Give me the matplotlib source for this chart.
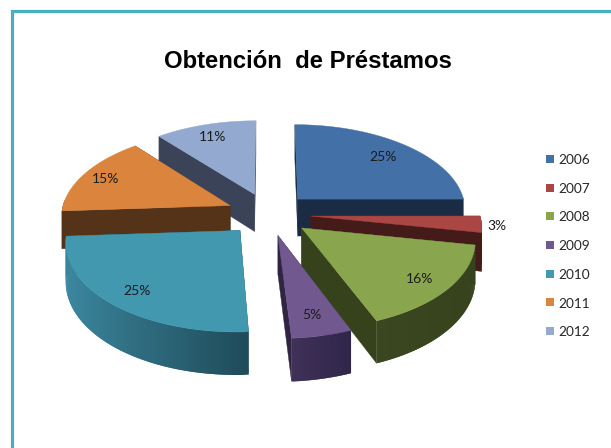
import numpy as np
import matplotlib
matplotlib.use("Agg")
import matplotlib.pyplot as plt
from matplotlib.colors import to_rgb
from matplotlib.patches import Polygon, Rectangle

TITLE = "Obtención  de Préstamos"
YEARS = ["2006", "2007", "2008", "2009", "2010", "2011", "2012"]
PERCENT = [25, 3, 16, 5, 25, 15, 11]

TOP_COLORS = ["#4470A8", "#AA4643", "#89A54E", "#71588F", "#4198AF", "#DB843D", "#93A9CF"]
CUT_COLORS = ["#1A2C44", "#451B19", "#36421C", "#2F2543", "#1F4C5A", "#553318", "#3A4357"]
RIM_LEFT = ["#1A2C44", "#451B19", "#3A4720", "#3F3158", "#3D8AA2", "#553318", "#3A4357"]
RIM_RIGHT = ["#1A2C44", "#451B19", "#36421C", "#30264A", "#1F4C5A", "#553318", "#3A4357"]
LABEL_R = [0.79, 1.09, 0.82, 0.80, 0.82, 0.85, 0.83]

# pie geometry, in pixels of the 611x448 picture
CX, CY = 268.5, 214
RX, RY = 169, 86
PERSP = 0.113
HEIGHT = 38
EXPLODE = 0.25
BORDER = "#4BACC6"


def project(x, y, drop=0.0):
    s = 1 / (1 - PERSP * y)
    return CX + RX * x * s, CY + RY * y * s + HEIGHT * s ** 0.85 * drop


def mix(a, b, t):
    a, b = np.array(to_rgb(a)), np.array(to_rgb(b))
    return tuple(a + (b - a) * t)


def draw_slice(ax, i, start, end):
    mid = (start + end) / 2
    ox, oy = EXPLODE * np.sin(mid), -EXPLODE * np.cos(mid)
    th = np.linspace(start, end, 80)
    x = ox + np.sin(th)
    y = oy - np.cos(th)

    # the two cut faces first, the rim and the top cover what is hidden
    for ex, ey in [(x[0], y[0]), (x[-1], y[-1])]:
        quad = [project(ox, oy), project(ex, ey), project(ex, ey, 1), project(ox, oy, 1)]
        ax.add_patch(Polygon(quad, fc=CUT_COLORS[i], ec=CUT_COLORS[i], lw=0.3))

    # rim strips overlap by one step so no seams show
    for k in range(len(th) - 2):
        if np.cos(th[k]) > 0.05:
            continue
        t = (x[k] - x.min()) / (x.max() - x.min())
        col = mix(RIM_LEFT[i], RIM_RIGHT[i], t)
        quad = [project(x[k], y[k]), project(x[k + 1], y[k + 1]), project(x[k + 2], y[k + 2]),
                project(x[k + 2], y[k + 2], 1), project(x[k + 1], y[k + 1], 1), project(x[k], y[k], 1)]
        ax.add_patch(Polygon(quad, fc=col, ec="none", lw=0))

    top = [project(ox, oy)] + [project(a, b) for a, b in zip(x, y)]
    ax.add_patch(Polygon(top, fc=TOP_COLORS[i], ec=TOP_COLORS[i], lw=0.3))


def main():
    plt.rcParams["font.family"] = ["Lato", "DejaVu Sans"]

    fig = plt.figure(figsize=(6.11, 4.48), dpi=100)
    ax = fig.add_axes([0, 0, 1, 1])
    ax.set_xlim(0, 611)
    ax.set_ylim(448, 0)
    ax.axis("off")

    ax.plot([11.5, 11.5, 611], [448, 11, 11], color=BORDER, lw=2.3,
            solid_joinstyle="miter")

    edges = np.cumsum([0] + PERCENT) / sum(PERCENT) * 2 * np.pi
    mids = (edges[:-1] + edges[1:]) / 2

    # back to front
    for i in np.argsort(-np.cos(mids)):
        draw_slice(ax, i, edges[i], edges[i + 1])

    for i, m in enumerate(mids):
        r = LABEL_R[i]
        px, py = project((EXPLODE + r) * np.sin(m), -(EXPLODE + r) * np.cos(m))
        ax.text(px, py + 1, f"{PERCENT[i]}%", ha="center", va="center",
                fontsize=10, color="#1c1c1c")

    ax.text(308, 62, TITLE, ha="center", va="center", fontsize=17.2,
            fontweight="bold", family="Liberation Sans", color="black")

    for i, year in enumerate(YEARS):
        ly = 159 + 28.7 * i
        ax.add_patch(Rectangle((546, ly - 4), 8, 8, fc=TOP_COLORS[i], ec="none"))
        ax.text(558, ly + 1, year, ha="left", va="center", fontsize=9.8, color="#262626")

    fig.savefig("out.png", dpi=100)


if __name__ == "__main__":
    main()
